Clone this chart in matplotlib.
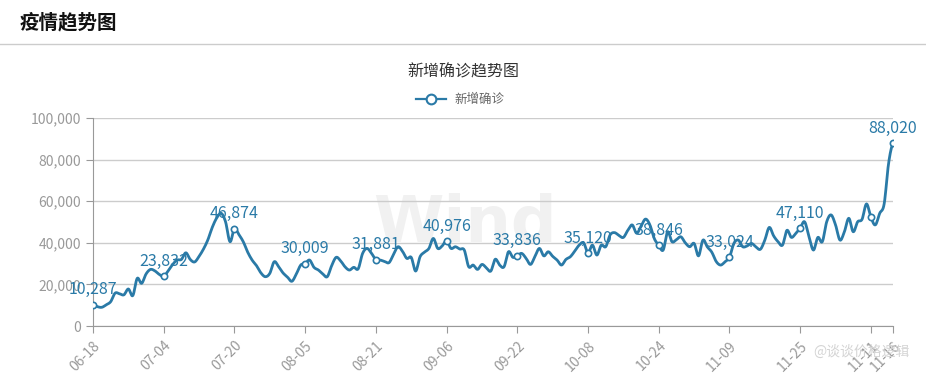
import numpy as np
import pandas as pd
import matplotlib
matplotlib.use("Agg")
import matplotlib.pyplot as plt

plt.rcParams['font.family'] = ['Noto Sans CJK SC', 'DejaVu Sans']

# 日期标签：06-18 ~ 11-25，然后 10-27 ~ 11-16
dates = list(pd.date_range("2022-06-18", "2022-11-25").strftime("%m-%d")) + \
    list(pd.date_range("2022-10-27", "2022-11-16").strftime("%m-%d"))

# 新增确诊（千）
new_cases_k = [
    10.287, 9.3, 9.0, 10.2, 11.7, 15.8, 15.5, 15.0, 17.8, 14.6,
    22.9, 20.5, 25.0, 27.2, 26.5, 24.8, 23.832, 26.5, 29.5, 31.7,
    32.0, 35.2, 32.0, 30.8, 33.5, 37.0, 41.5, 47.5, 52.0, 54.2,
    50.0, 40.5, 46.874, 44.0, 40.5, 35.5, 31.7, 29.0, 25.5, 23.7,
    25.3, 30.9, 28.5, 25.5, 23.5, 21.5, 25.0, 29.3, 30.009, 31.7,
    28.2, 26.9, 25.0, 23.7, 29.0, 33.0, 31.4, 28.5, 26.9, 28.2,
    27.5, 34.9, 37.3, 35.0, 31.881, 31.7, 31.0, 30.5, 34.5, 38.1,
    36.0, 32.5, 33.0, 26.4, 33.3, 35.5, 37.3, 42.1, 37.3, 38.5,
    40.976, 37.3, 38.1, 37.0, 36.5, 28.5, 29.3, 27.2, 29.6, 28.0,
    26.4, 32.1, 29.3, 28.5, 35.7, 33.0, 33.836, 34.9, 32.5, 29.6,
    33.5, 37.3, 33.7, 35.7, 33.5, 31.7, 29.3, 32.0, 33.3, 36.0,
    38.9, 40.0, 35.120, 38.9, 34.1, 38.9, 38.1, 43.8, 44.9, 43.5,
    42.6, 46.0, 48.6, 44.6, 48.0, 51.4, 48.6, 42.0, 38.846, 36.5,
    45.3, 40.5, 41.5, 42.9, 40.0, 38.1, 39.7, 33.7, 41.3, 38.0,
    35.5, 31.0, 29.3, 30.9, 33.024, 39.7, 41.3, 38.1, 38.5, 39.7,
    38.0, 36.9, 41.3, 47.4, 43.3, 40.5, 38.9, 46.0, 42.6, 44.5,
    47.110, 50.1, 42.9, 36.5, 42.6, 40.5, 50.1, 53.4, 48.6, 41.3,
    45.3, 51.8, 45.3, 50.1, 51.3, 58.7, 52.3, 48.6, 54.2, 58.7,
    78.2, 88.020,
]
new_cases = [int(round(v * 1000)) for v in new_cases_k]

tick_idx = list(range(0, 161, 16)) + [176, len(new_cases) - 1]
label_idx = list(range(0, 161, 16)) + [len(new_cases) - 1]

line_color = '#2a7aa7'
gray = '#999999'


def smooth(y, n=8):
    # Catmull-Rom 样条，模拟平滑折线
    y = np.asarray(y, dtype=float)
    p = np.concatenate([[y[0]], y, [y[-1]]])
    xs, ys = [], []
    t = np.linspace(0, 1, n, endpoint=False)
    for i in range(len(y) - 1):
        p0, p1, p2, p3 = p[i], p[i + 1], p[i + 2], p[i + 3]
        seg = 0.5 * (2 * p1 + (-p0 + p2) * t + (2 * p0 - 5 * p1 + 4 * p2 - p3) * t ** 2
                     + (-p0 + 3 * p1 - 3 * p2 + p3) * t ** 3)
        xs.append(i + t)
        ys.append(seg)
    xs.append([len(y) - 1])
    ys.append([y[-1]])
    return np.concatenate(xs), np.concatenate(ys)


fig = plt.figure(figsize=(9.26, 3.83), dpi=100)

# 页头
fig.text(20 / 926, 1 - 23 / 383, "疫情趋势图", fontsize=14, fontweight='bold',
         color='#111111', va='center', ha='left')
fig.add_artist(plt.Line2D([0, 1], [1 - 44 / 383, 1 - 44 / 383], color='#cccccc', lw=1))

# 标题和图例
fig.text(0.5, 1 - 72 / 383, "新增确诊趋势图", fontsize=11.5, color='#333333',
         ha='center', va='center')
fig.add_artist(plt.Line2D([416 / 926, 446 / 926], [1 - 99 / 383, 1 - 99 / 383],
                          color=line_color, lw=1.6))
fig.add_artist(plt.Line2D([431 / 926], [1 - 99 / 383], marker='o', markersize=7,
                          markerfacecolor='white', markeredgecolor=line_color,
                          markeredgewidth=1.5))
fig.text(454 / 926, 1 - 99 / 383, "新增确诊", fontsize=9, color='#666666',
         ha='left', va='center')

ax = fig.add_axes([93 / 926, 1 - 326 / 383, 800 / 926, 208 / 383])

# 水印
ax.text(0.465, 0.49, "Wind", transform=ax.transAxes, fontsize=46, fontweight='bold',
        color='#f1f1f1', ha='center', va='center', zorder=0, family='DejaVu Sans')

x = np.arange(len(new_cases))
sx, sy = smooth(new_cases)
ax.plot(sx, sy, color=line_color, lw=2.0, solid_capstyle='round', zorder=3)

mark_idx = sorted(set(tick_idx))
ax.plot(x[mark_idx], np.array(new_cases)[mark_idx], 'o', markersize=4.5,
        markerfacecolor='white', markeredgecolor=line_color, markeredgewidth=1.2,
        zorder=4, linestyle='none')

for i in label_idx:
    ax.annotate(f"{new_cases[i]:,}", (x[i], new_cases[i]), xytext=(0, 4.5),
                textcoords='offset points', ha='center', va='bottom',
                fontsize=11.5, color=line_color, zorder=5)

ax.set_xlim(0, len(new_cases) - 1)
ax.set_ylim(0, 100000)
ax.set_yticks(range(0, 100001, 20000))
ax.set_yticklabels([f"{v:,}" for v in range(0, 100001, 20000)])
ax.set_xticks(tick_idx)
ax.set_xticklabels([dates[i] for i in tick_idx], rotation=45, ha='right',
                   rotation_mode='anchor')

ax.grid(axis='y', color='#cccccc', lw=1)
ax.set_axisbelow(True)
for s in ['top', 'right']:
    ax.spines[s].set_visible(False)
for s in ['left', 'bottom']:
    ax.spines[s].set_color(gray)
ax.tick_params(axis='both', colors=gray, labelcolor=gray, labelsize=10, length=5)
ax.tick_params(axis='x', pad=4)

fig.text(813 / 926, 1 - 352 / 383, "@谈谈价格逻辑", fontsize=10, color='#d4d4d4',
         ha='left', va='center')

fig.savefig("out.png", dpi=100)
